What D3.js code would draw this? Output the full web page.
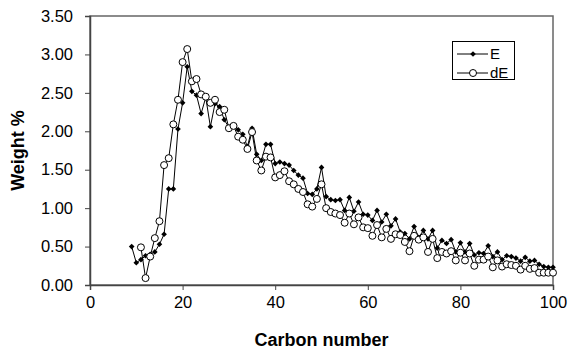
<!DOCTYPE html>
<html>
<head>
<meta charset="utf-8">
<script src="https://cdn.jsdelivr.net/npm/d3@7"></script>
<style>
  body { margin: 0; background: #fff; }
  svg text { font-family: Arial, "Liberation Sans", sans-serif; fill: #000; }
  .tickText { font-size: 16.5px; }
  .axisTitle { font-size: 18px; font-weight: bold; }
  .legendText { font-size: 15px; }
</style>
</head>
<body>
<svg id="chart" width="571" height="351"></svg>
<script>
// carbon numbers and weight %
const eCarbons = d3.range(9, 101);
const eValues = [
  0.50, 0.29, 0.33, 0.38, 0.40, 0.43, 0.53, 0.66, 1.25, 1.25,
  2.03, 2.37, 2.84, 2.52, 2.47, 2.23, 2.44, 2.06, 2.36, 2.32,
  2.15, 2.05, 2.07, 2.02, 1.96, 1.80, 2.04, 1.70, 1.62, 1.83,
  1.83, 1.58, 1.60, 1.58, 1.56, 1.49, 1.43, 1.39, 1.19, 1.18,
  1.25, 1.53, 1.15, 1.11, 1.10, 1.11, 0.97, 1.14, 0.96, 1.08,
  0.92, 0.91, 0.84, 0.97, 0.82, 0.92, 0.77, 0.86, 0.69, 0.67,
  0.60, 0.76, 0.62, 0.71, 0.60, 0.71, 0.48, 0.58, 0.54, 0.59,
  0.43, 0.55, 0.43, 0.54, 0.39, 0.42, 0.41, 0.51, 0.37, 0.43,
  0.33, 0.38, 0.37, 0.35, 0.31, 0.36, 0.31, 0.32, 0.27, 0.24,
  0.23, 0.23
];

const deCarbons = d3.range(11, 101);
const deValues = [
  0.49, 0.09, 0.37, 0.61, 0.83, 1.56, 1.65, 2.09, 2.41, 2.90,
  3.07, 2.65, 2.68, 2.48, 2.45, 2.37, 2.41, 2.25, 2.28, 2.04,
  2.07, 1.93, 1.89, 1.77, 1.99, 1.62, 1.49, 1.67, 1.66, 1.40,
  1.43, 1.48, 1.35, 1.31, 1.25, 1.21, 1.05, 1.02, 1.12, 1.31,
  1.00, 0.95, 0.93, 0.91, 0.81, 0.93, 0.79, 0.88, 0.75, 0.74,
  0.64, 0.78, 0.62, 0.73, 0.60, 0.66, 0.65, 0.56, 0.44, 0.64,
  0.59, 0.62, 0.43, 0.60, 0.35, 0.43, 0.41, 0.44, 0.32, 0.42,
  0.32, 0.41, 0.25, 0.33, 0.33, 0.37, 0.23, 0.32, 0.24, 0.27,
  0.26, 0.25, 0.20, 0.25, 0.21, 0.22, 0.16, 0.16, 0.16, 0.16
];

const xTicks = [0, 20, 40, 60, 80, 100];
const yTicks = [0, 0.5, 1, 1.5, 2, 2.5, 3, 3.5];
const seriesNames = ["E", "dE"];

const plotLeft = 90;
const plotRight = 553;
const plotTop = 16;
const plotBottom = 285;

let svg = d3.select("#chart");

const x = d3.scaleLinear().domain([0, 100]).range([plotLeft, plotRight]);
const y = d3.scaleLinear().domain([0, 3.5]).range([plotBottom, plotTop]);

// plot area frame (top and right)
svg
  .append("rect")
  .attr("x", plotLeft)
  .attr("y", plotTop)
  .attr("width", plotRight - plotLeft)
  .attr("height", plotBottom - plotTop)
  .attr("fill", "none")
  .attr("stroke", "#666")
  .attr("stroke-width", 1.5);

const xAxis = svg
  .append("g")
  .attr("transform", `translate(0,${plotBottom})`)
  .call(d3.axisBottom(x).tickValues(xTicks).tickSize(5).tickPadding(6).tickFormat(d3.format("d")));

const yAxis = svg
  .append("g")
  .attr("transform", `translate(${plotLeft},0)`)
  .call(d3.axisLeft(y).tickValues(yTicks).tickSize(5).tickPadding(12).tickFormat(d3.format(".2f")));

[xAxis, yAxis].forEach((g) => {
  g.select(".domain").attr("stroke", "#444").attr("stroke-width", 1.5);
  g.selectAll(".tick line").attr("stroke", "#444");
  g.selectAll(".tick text").attr("class", "tickText");
  g.attr("font-family", null).attr("font-size", null);
});

svg
  .append("text")
  .attr("class", "axisTitle")
  .attr("x", (plotLeft + plotRight) / 2)
  .attr("y", 346)
  .attr("text-anchor", "middle")
  .text("Carbon number");

svg
  .append("text")
  .attr("class", "axisTitle")
  .attr("transform", `translate(24,${(plotTop + plotBottom) / 2}) rotate(-90)`)
  .attr("text-anchor", "middle")
  .text("Weight %");

const eData = eCarbons.map((c, i) => ({ c: c, v: eValues[i] }));
const deData = deCarbons.map((c, i) => ({ c: c, v: deValues[i] }));

const line = d3
  .line()
  .x((d) => x(d.c))
  .y((d) => y(d.v));

svg
  .append("path")
  .datum(eData)
  .attr("d", line)
  .attr("fill", "none")
  .attr("stroke", "#000")
  .attr("stroke-width", 1);

svg
  .append("path")
  .datum(deData)
  .attr("d", line)
  .attr("fill", "none")
  .attr("stroke", "#000")
  .attr("stroke-width", 1);

// Excel style diamond: a small square turned 45 degrees
const diamond = d3.symbol().type(d3.symbolSquare).size(16);

svg
  .append("g")
  .selectAll("path")
  .data(eData)
  .join("path")
  .attr("d", diamond)
  .attr("transform", (d) => `translate(${x(d.c)},${y(d.v)}) rotate(45)`)
  .attr("fill", "#000");

svg
  .append("g")
  .selectAll("circle")
  .data(deData)
  .join("circle")
  .attr("cx", (d) => x(d.c))
  .attr("cy", (d) => y(d.v))
  .attr("r", 3.5)
  .attr("fill", "#fff")
  .attr("stroke", "#000")
  .attr("stroke-width", 1);

// legend
const legend = svg.append("g");

legend
  .append("rect")
  .attr("x", 452.5)
  .attr("y", 41.5)
  .attr("width", 62)
  .attr("height", 38)
  .attr("fill", "#fff")
  .attr("stroke", "#000")
  .attr("stroke-width", 1);

const legendRows = [54, 73];

legendRows.forEach((ly, i) => {
  legend
    .append("line")
    .attr("x1", 457)
    .attr("x2", 488)
    .attr("y1", ly)
    .attr("y2", ly)
    .attr("stroke", "#000");
  if (i === 0) {
    legend
      .append("path")
      .attr("d", diamond)
      .attr("transform", `translate(473,${ly}) rotate(45)`)
      .attr("fill", "#000");
  } else {
    legend
      .append("circle")
      .attr("cx", 473)
      .attr("cy", ly)
      .attr("r", 3.5)
      .attr("fill", "#fff")
      .attr("stroke", "#000");
  }
  legend
    .append("text")
    .attr("class", "legendText")
    .attr("x", 490)
    .attr("y", ly + 5)
    .text(seriesNames[i]);
});
</script>
</body>
</html>
